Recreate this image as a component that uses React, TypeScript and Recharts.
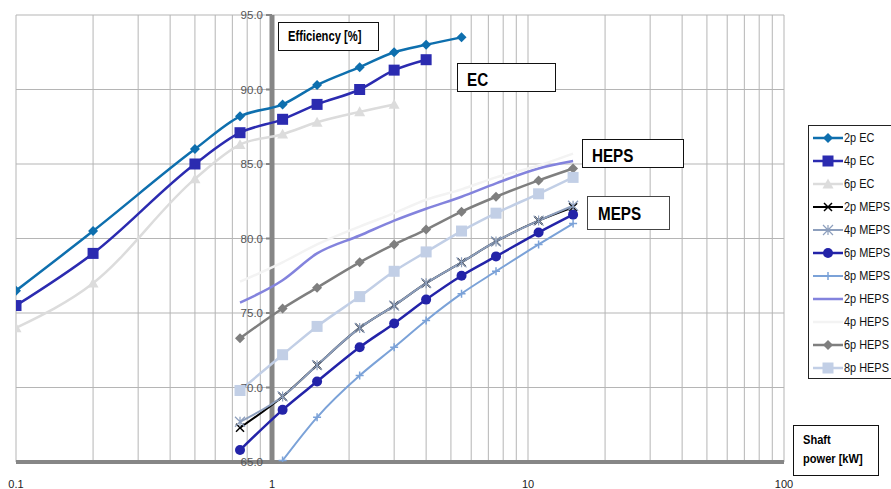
import { LineChart, Line, XAxis, YAxis, ReferenceLine, ReferenceDot } from 'recharts'

// shaft power [kW]
const ecPower = [0.1, 0.2, 0.5, 0.75, 1.1, 1.5, 2.2, 3, 4, 5.5]
const mepsPower = [0.75, 1.1, 1.5, 2.2, 3, 4, 5.5, 7.5, 11, 15]

// efficiency [%]
const ec2p = [76.5, 80.5, 86.0, 88.2, 89.0, 90.3, 91.5, 92.5, 93.0, 93.5]
const ec4p = [75.5, 79.0, 85.0, 87.1, 88.0, 89.0, 90.0, 91.3, 92.0]
const ec6p = [74.0, 77.0, 84.0, 86.3, 87.0, 87.8, 88.5, 89.0]
const meps2p = [67.3, 69.4, 71.5, 74.0, 75.5, 77.0, 78.4, 79.8, 81.2, 82.1]
const meps4p = [67.7, 69.4, 71.5, 74.0, 75.5, 77.0, 78.4, 79.8, 81.2, 82.2]
const meps6p = [65.8, 68.5, 70.4, 72.7, 74.3, 75.9, 77.5, 78.8, 80.4, 81.6]
const meps8p = [null, 65.1, 68.0, 70.8, 72.7, 74.5, 76.3, 77.8, 79.6, 81.0]
const heps2p = [75.7, 77.2, 79.0, 80.2, 81.2, 82.0, 82.8, 83.7, 84.7, 85.2]
const heps4p = [77.1, 78.4, 79.6, 80.8, 81.7, 82.6, 83.3, 84.1, 84.9, 85.7]
const heps6p = [73.3, 75.3, 76.7, 78.4, 79.6, 80.6, 81.8, 82.8, 83.9, 84.7]
const heps8p = [69.8, 72.2, 74.1, 76.1, 77.8, 79.1, 80.5, 81.7, 83.0, 84.1]

const xTicks = [0.1, 1, 10, 100]
const yTicks = [65, 70, 75, 80, 85, 90, 95]

const sans = "'Liberation Sans', Arial, sans-serif"

// minor log gridlines
const gridX: number[] = []
for (const d of [0.1, 1, 10]) {
  for (let k = 1; k <= 9; k++) gridX.push(+(d * k).toFixed(3))
}
gridX.push(100)

function pts(xs: number[], ys: (number | null)[]) {
  return ys
    .map((y, i) => (y == null ? null : { x: xs[i], y }))
    .filter(Boolean) as { x: number; y: number }[]
}

type Shape = 'diamond' | 'square' | 'triangle' | 'x' | 'star' | 'circle' | 'plus' | 'none'

const series: { name: string; data: { x: number; y: number }[]; color: string; shape: Shape; size: number; width: number }[] = [
  { name: '2p EC', data: pts(ecPower, ec2p), color: '#0e6fae', shape: 'diamond', size: 5, width: 2.5 },
  { name: '4p EC', data: pts(ecPower, ec4p), color: '#2b2bb0', shape: 'square', size: 5.5, width: 2.5 },
  { name: '6p EC', data: pts(ecPower, ec6p), color: '#dcdcdc', shape: 'triangle', size: 5.5, width: 2.5 },
  { name: '2p MEPS', data: pts(mepsPower, meps2p), color: '#000000', shape: 'x', size: 4, width: 2 },
  { name: '4p MEPS', data: pts(mepsPower, meps4p), color: '#8d9fbd', shape: 'star', size: 5, width: 2 },
  { name: '6p MEPS', data: pts(mepsPower, meps6p), color: '#2323a8', shape: 'circle', size: 5, width: 2.5 },
  { name: '8p MEPS', data: pts(mepsPower, meps8p), color: '#7ba2d8', shape: 'plus', size: 4, width: 2 },
  { name: '2p HEPS', data: pts(mepsPower, heps2p), color: '#8383dd', shape: 'none', size: 0, width: 2.5 },
  { name: '4p HEPS', data: pts(mepsPower, heps4p), color: '#f3f3f3', shape: 'none', size: 0, width: 2.5 },
  { name: '6p HEPS', data: pts(mepsPower, heps6p), color: '#7f7f7f', shape: 'diamond', size: 5, width: 2.5 },
  { name: '8p HEPS', data: pts(mepsPower, heps8p), color: '#c2cfe6', shape: 'square', size: 5.5, width: 2.5 },
]

function Marker({ shape, cx, cy, color, s }: { shape: Shape; cx: number; cy: number; color: string; s: number }) {
  switch (shape) {
    case 'diamond':
      return <path d={`M${cx},${cy - s}L${cx + s},${cy}L${cx},${cy + s}L${cx - s},${cy}Z`} fill={color} />
    case 'square':
      return <rect x={cx - s} y={cy - s} width={2 * s} height={2 * s} fill={color} />
    case 'triangle':
      return <path d={`M${cx},${cy - s}L${cx + s},${cy + s * 0.8}L${cx - s},${cy + s * 0.8}Z`} fill={color} />
    case 'circle':
      return <circle cx={cx} cy={cy} r={s} fill={color} />
    case 'x':
      return (
        <path d={`M${cx - s},${cy - s}L${cx + s},${cy + s}M${cx - s},${cy + s}L${cx + s},${cy - s}`} stroke={color} strokeWidth={1.5} />
      )
    case 'star':
      return (
        <path
          d={`M${cx - s},${cy - s}L${cx + s},${cy + s}M${cx - s},${cy + s}L${cx + s},${cy - s}M${cx},${cy - s}L${cx},${cy + s}`}
          stroke={color}
          strokeWidth={1.2}
        />
      )
    case 'plus':
      return <path d={`M${cx - s},${cy}L${cx + s},${cy}M${cx},${cy - s}L${cx},${cy + s}`} stroke={color} strokeWidth={1.5} />
    default:
      return null
  }
}

// condensed text (no narrow font installed, so squeeze horizontally)
function Narrow({ children, scale = 0.8 }: { children: any; scale?: number }) {
  return (
    <span style={{ display: 'inline-block', transform: `scaleX(${scale})`, transformOrigin: 'left center', whiteSpace: 'nowrap' }}>
      {children}
    </span>
  )
}

const boxStyle = {
  position: 'absolute' as const,
  border: '1px solid #111',
  background: '#fff',
  boxSizing: 'border-box' as const,
  fontFamily: sans,
  fontWeight: 'bold' as const,
  color: '#000',
  whiteSpace: 'nowrap' as const,
}

export default function App() {
  return (
    <div style={{ position: 'absolute', left: 0, top: 0, width: 891, height: 489, overflow: 'hidden', background: '#fff' }}>
      <LineChart width={891} height={489} margin={{ top: 15, right: 107, bottom: 0, left: 16 }}>
        <XAxis
          dataKey="x"
          type="number"
          scale="log"
          domain={[0.1, 100]}
          ticks={xTicks}
          allowDataOverflow
          height={27}
          axisLine={{ stroke: '#868686', strokeWidth: 4 }}
          tickLine={false}
          tickMargin={12}
          tick={{ fill: '#222', fontSize: 11, fontFamily: sans }}
          tickFormatter={(v) => String(v)}
        />
        <YAxis type="number" domain={[65, 95]} ticks={yTicks} hide allowDataOverflow />
        {gridX.map((v) => (
          <ReferenceLine key={`gx${v}`} x={v} stroke="#b5b5b5" strokeWidth={1} />
        ))}
        {yTicks.map((v) => (
          <ReferenceLine key={`gy${v}`} y={v} stroke="#b5b5b5" strokeWidth={1} />
        ))}
        <ReferenceLine x={1} stroke="#868686" strokeWidth={5} />
        {yTicks.map((v) => (
          <ReferenceDot
            key={`yl${v}`}
            x={1}
            y={v}
            r={0}
            shape={(p: any) => (
              <g>
                <line x1={p.cx - 6} y1={p.cy} x2={p.cx} y2={p.cy} stroke="#868686" strokeWidth={2} />
                <text x={p.cx - 9} y={p.cy} dy="0.35em" textAnchor="end" fontSize={11.5} fill="#555" fontFamily={sans}>
                  {v.toFixed(1)}
                </text>
              </g>
            )}
          />
        ))}
        {series.map((s) => (
          <Line
            key={s.name}
            name={s.name}
            data={s.data}
            dataKey="y"
            type="monotone"
            stroke={s.color}
            strokeWidth={s.width}
            isAnimationActive={false}
            activeDot={false}
            dot={(p: any) => (
              <g key={`${s.name}-${p.index}`}>
                <Marker shape={s.shape} cx={p.cx} cy={p.cy} color={s.color} s={s.size} />
              </g>
            )}
          />
        ))}
      </LineChart>

      <div style={{ ...boxStyle, left: 278, top: 22, width: 101, height: 29, fontSize: 14, paddingLeft: 9, lineHeight: '27px' }}>
        <Narrow>Efficiency [%]</Narrow>
      </div>
      <div style={{ ...boxStyle, left: 457, top: 63, width: 99, height: 29, fontSize: 19, paddingLeft: 9, lineHeight: '31px' }}>
        <Narrow>EC</Narrow>
      </div>
      <div style={{ ...boxStyle, left: 582, top: 139, width: 102, height: 29, fontSize: 19, paddingLeft: 9, lineHeight: '31px' }}>
        <Narrow>HEPS</Narrow>
      </div>
      <div style={{ ...boxStyle, left: 587, top: 196, width: 83, height: 34, fontSize: 19, paddingLeft: 10, lineHeight: '34px', borderColor: '#444' }}>
        <Narrow>MEPS</Narrow>
      </div>
      <div style={{ ...boxStyle, left: 793, top: 425, width: 86, height: 51, fontSize: 13.5, paddingLeft: 9, paddingTop: 4, lineHeight: '19px' }}>
        <Narrow scale={0.82}>Shaft</Narrow>
        <br />
        <Narrow scale={0.82}>power [kW]</Narrow>
      </div>

      <div
        style={{
          position: 'absolute',
          left: 808,
          top: 125,
          width: 90,
          height: 254,
          border: '1px solid #222',
          boxSizing: 'border-box',
          background: '#fff',
        }}
      >
        {series.map((s) => (
          <div key={s.name} style={{ display: 'flex', alignItems: 'center', height: 23, paddingLeft: 4 }}>
            <svg width={30} height={14} style={{ display: 'block', flex: 'none' }}>
              <line x1={0} y1={7} x2={30} y2={7} stroke={s.color} strokeWidth={s.width} />
              <Marker shape={s.shape} cx={15} cy={7} color={s.color} s={s.size} />
            </svg>
            <span style={{ fontFamily: sans, fontSize: 13, color: '#111', marginLeft: 1 }}>
              <Narrow scale={0.84}>{s.name}</Narrow>
            </span>
          </div>
        ))}
      </div>
    </div>
  )
}
